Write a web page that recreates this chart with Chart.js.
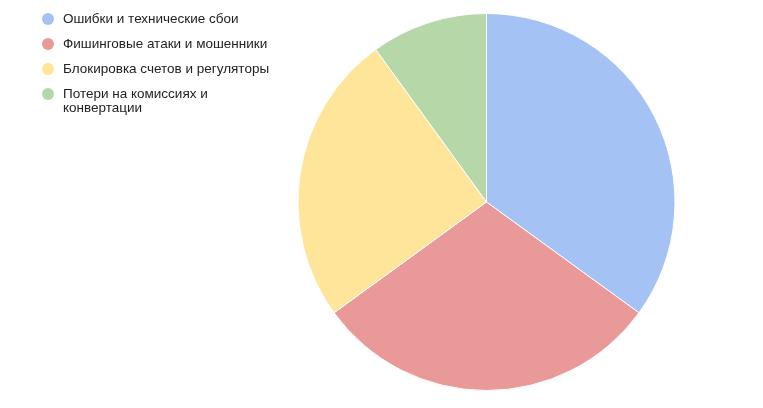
<!DOCTYPE html>
<html>
<head>
<meta charset="utf-8">
<script src="https://cdn.jsdelivr.net/npm/chart.js@4.4.1/dist/chart.umd.min.js"></script>
<style>
  html, body { margin: 0; padding: 0; background: #ffffff; }
  #wrap { position: relative; width: 763px; height: 408px; }
  #c { position: absolute; left: 0; top: 0; }
  #legend { position: absolute; left: 42px; top: 12px; font-family: "Liberation Sans", Arial, sans-serif; font-size: 13.5px; color: #222222; }
  .item { position: relative; padding-left: 21px; line-height: 14px; margin-bottom: 11px; width: 220px; }
  .dot { position: absolute; left: 0; top: 1px; width: 12px; height: 12px; border-radius: 50%; }
</style>
</head>
<body>
<div id="wrap">
  <canvas id="c" width="763" height="408"></canvas>
  <div id="legend"></div>
</div>
<script>
const categories = [
  "Ошибки и технические сбои",
  "Фишинговые атаки и мошенники",
  "Блокировка счетов и регуляторы",
  "Потери на комиссиях и конвертации"
];
const legendLines = [
  ["Ошибки и технические сбои"],
  ["Фишинговые атаки и мошенники"],
  ["Блокировка счетов и регуляторы"],
  ["Потери на комиссиях и", "конвертации"]
];
const values = [35, 30, 25, 10];
const colors = ["#a4c2f4", "#ea9999", "#ffe599", "#b6d7a8"];

const legend = document.getElementById('legend');
categories.forEach((cat, i) => {
  const d = document.createElement('div');
  d.className = 'item';
  const dot = document.createElement('span');
  dot.className = 'dot';
  dot.style.background = colors[i];
  d.appendChild(dot);
  legendLines[i].forEach((ln, j) => {
    if (j > 0) d.appendChild(document.createElement('br'));
    d.appendChild(document.createTextNode(ln));
  });
  legend.appendChild(d);
});

new Chart(document.getElementById('c'), {
  type: 'pie',
  data: {
    labels: categories,
    datasets: [{
      data: values,
      backgroundColor: colors,
      borderColor: '#ffffff',
      borderWidth: 1
    }]
  },
  options: {
    responsive: false,
    animation: false,
    layout: { padding: { left: 210, right: 0, top: 13, bottom: 17 } },
    plugins: {
      legend: { display: false },
      tooltip: { enabled: false }
    }
  }
});
</script>
</body>
</html>
